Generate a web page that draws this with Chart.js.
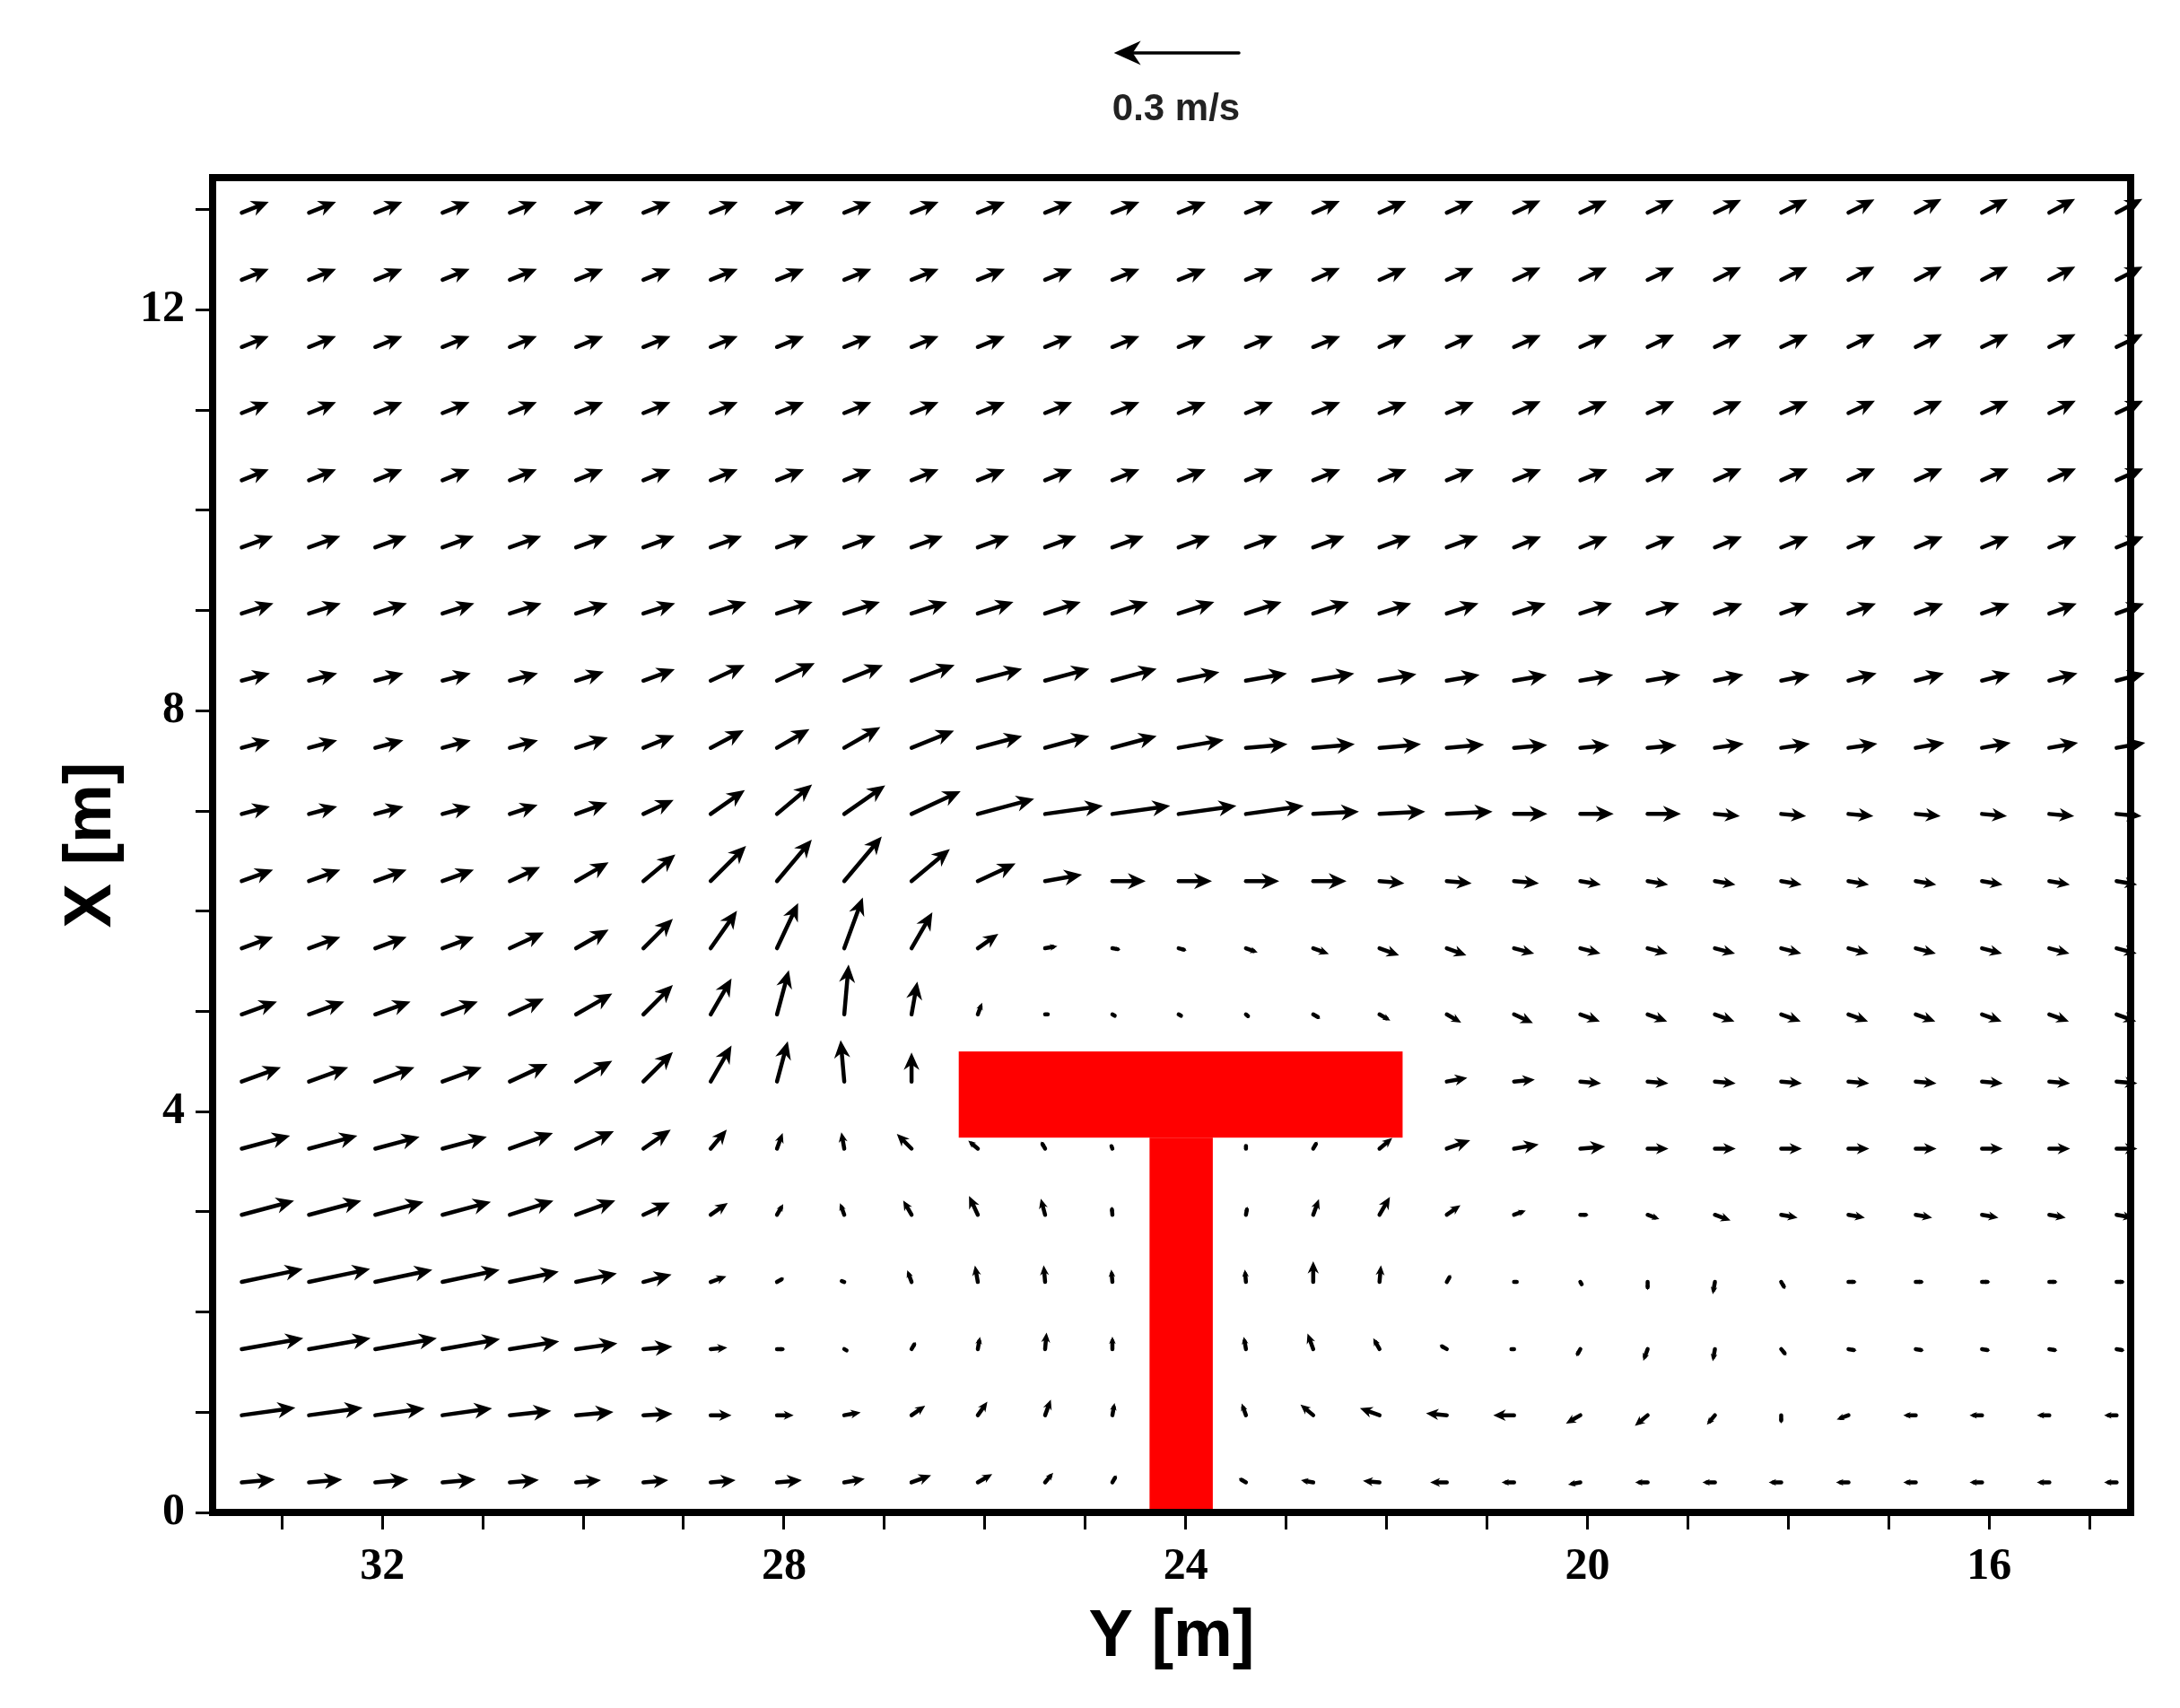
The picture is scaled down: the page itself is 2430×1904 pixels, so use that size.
<!DOCTYPE html>
<html>
<head>
<meta charset="utf-8">
<script src="https://cdn.jsdelivr.net/npm/chart.js@4/dist/chart.umd.min.js"></script>
<style>
  html, body { margin: 0; padding: 0; background: #fff; }
  #wrap { position: absolute; left: 0; top: 0; width: 2430px; height: 1904px; }
</style>
</head>
<body>
<div id="wrap"><canvas id="campo"></canvas></div>
<script>
// grid positions (m)
const colsY = [33.4, 32.73, 32.07, 31.4, 30.73, 30.07, 29.4, 28.73, 28.07, 27.4, 26.73, 26.07, 25.4, 24.73, 24.07,
  23.4, 22.73, 22.07, 21.4, 20.73, 20.07, 19.4, 18.73, 18.07, 17.4, 16.73, 16.07, 15.4, 14.73];
const rowsX = [0.3, 0.97, 1.63, 2.3, 2.97, 3.63, 4.3, 4.97, 5.63, 6.3, 6.97, 7.63, 8.3, 8.97, 9.63, 10.3, 10.97, 11.63, 12.3, 12.97];

// direction on the page (deg, 0 = right, 90 = up), one row per rowsX
const angulos = [
  [5,5,5,5,5,5,5,5,5,10,20,30,50,60,0,150,170,175,180,180,190,180,180,180,180,180,180,180,180],
  [8,8,8,8,6,5,3,0,0,10,35,55,70,80,0,110,140,160,175,180,210,220,230,270,200,180,180,180,180],
  [10,10,10,10,9,8,5,5,0,-30,60,80,85,90,0,100,110,120,150,180,240,250,260,-50,-10,-10,-10,-10,-10],
  [12,12,12,12,12,12,15,20,30,160,110,100,95,95,0,95,90,85,60,0,-60,-90,-100,-60,0,0,0,0,0],
  [15,15,15,15,18,20,25,35,60,110,120,115,105,95,0,80,70,60,35,20,0,-20,-20,-10,-10,-10,-10,-10,-10],
  [15,15,15,15,20,25,35,50,70,100,135,140,120,110,0,90,60,40,20,10,5,0,0,0,0,0,0,0,0],
  [20,20,20,20,25,30,45,60,75,95,90,0,0,0,0,0,0,0,10,5,-5,-5,-5,-5,-5,-5,-5,-5,-5],
  [20,20,20,20,25,30,45,60,75,85,80,70,0,-30,-30,-40,-30,-30,-30,-25,-20,-20,-20,-20,-20,-20,-20,-20,-20],
  [20,20,20,20,25,30,45,55,65,70,60,35,10,-10,-15,-20,-20,-20,-20,-15,-15,-15,-15,-15,-15,-15,-15,-15,-15],
  [20,20,20,20,25,30,40,45,50,50,40,25,10,0,0,0,0,-5,-5,-5,-10,-10,-10,-10,-10,-10,-10,-10,-10],
  [15,15,15,15,18,20,25,35,40,35,25,15,8,8,8,8,3,3,3,0,0,0,-5,-5,-5,-5,-5,-5,-5],
  [15,15,15,15,15,18,22,28,30,30,22,15,15,15,10,5,5,5,5,5,5,5,8,8,8,10,10,10,10],
  [15,15,15,15,15,18,20,25,25,22,20,15,15,15,12,10,10,10,10,10,10,10,12,12,15,15,15,15,15],
  [18,18,18,18,18,18,18,18,18,18,18,18,18,18,18,18,18,18,18,18,18,18,20,20,20,20,20,20,20],
  [20,20,20,20,20,20,20,20,20,20,20,20,20,20,20,20,20,20,20,22,22,22,22,22,22,22,22,22,22],
  [22,22,22,22,22,22,22,22,22,22,22,22,22,22,22,22,22,22,22,22,22,24,24,24,24,24,24,24,24],
  [22,22,22,22,22,22,22,22,22,22,22,22,22,22,22,22,22,22,22,24,24,24,24,24,25,25,25,25,25],
  [22,22,22,22,22,22,22,22,22,22,22,22,22,22,22,22,22,24,24,24,24,25,25,25,26,26,26,26,26],
  [22,22,22,22,22,22,22,22,22,22,22,22,22,22,22,22,24,24,24,25,25,25,26,26,27,27,27,27,27],
  [22,22,22,22,22,22,22,22,22,22,22,22,22,22,22,22,24,24,24,25,25,26,26,27,27,28,28,28,28]
];

// speed (cm/s), same layout
const velocidades = [
  [8,8,8,8,7,6,6,6,6,5,5,4,3,2,0,2,3,4,4,3,3,3,3,3,3,3,3,3,3],
  [13,13,12,12,10,9,7,5,4,4,4,4,4,3,0,3,4,5,5,5,4,4,3,2,3,3,3,3,3],
  [15,15,15,14,12,10,7,4,2,1,2,3,4,3,0,3,4,3,2,1,2,3,3,2,2,2,2,2,2],
  [15,15,14,14,12,10,7,4,2,1,3,4,4,3,0,3,5,4,2,1,1,2,3,2,2,2,2,2,2],
  [13,13,12,12,11,10,7,5,3,3,4,5,4,2,0,2,4,5,4,3,2,3,4,4,4,4,4,4,4],
  [12,12,11,11,11,10,8,6,4,4,5,3,2,1,0,1,2,4,6,6,6,5,5,5,5,5,5,5,5],
  [10,10,10,10,10,10,10,10,10,10,7,0,0,0,0,0,0,0,5,5,5,5,5,5,5,5,5,5,5],
  [9,9,9,9,9,10,10,10,11,12,8,3,1,1,1,1,2,3,4,5,5,5,5,5,5,5,5,5,5],
  [8,8,8,8,9,9,10,11,12,13,10,6,3,2,2,3,4,5,5,5,5,5,5,5,5,5,5,5,5],
  [8,8,8,8,8,9,10,12,13,14,12,10,9,8,8,8,8,6,6,6,5,5,5,5,5,5,5,5,5],
  [7,7,7,7,7,8,8,10,11,12,13,14,14,14,14,14,11,11,11,8,8,8,6,6,6,6,6,6,6],
  [7,7,7,7,7,8,8,9,9,10,11,11,11,11,11,10,10,10,9,8,7,7,7,7,7,7,7,7,7],
  [7,7,7,7,7,7,8,9,10,10,11,11,11,11,10,10,10,9,8,8,8,8,7,7,7,7,7,7,7],
  [8,8,8,8,8,8,8,9,9,9,9,9,9,9,9,9,9,8,8,8,8,8,7,7,7,7,7,7,7],
  [8,8,8,8,8,8,8,8,8,8,8,8,8,8,8,8,8,8,8,7,7,7,7,7,7,7,7,7,7],
  [7,7,7,7,7,7,7,7,7,7,7,7,7,7,7,7,7,7,7,7,7,7,7,7,7,7,7,7,7],
  [7,7,7,7,7,7,7,7,7,7,7,7,7,7,7,7,7,7,7,7,7,7,7,7,7,7,7,7,7],
  [7,7,7,7,7,7,7,7,7,7,7,7,7,7,7,7,7,7,7,7,7,7,7,7,7,7,7,7,7],
  [7,7,7,7,7,7,7,7,7,7,7,7,7,7,7,7,7,7,7,7,7,7,7,7,7,7,7,7,7],
  [7,7,7,7,7,7,7,7,7,7,7,7,7,7,7,7,7,7,7,7,7,7,7,7,7,7,7,7,7]
];

// T-shaped structure (m)
const barraY = [26.26, 21.84];
const barraX = [3.74, 4.6];
const troncoY = [24.36, 23.73];
const troncoX = [0, 3.74];

const ticksY = [32, 28, 24, 20, 16];
const ticksX = [0, 4, 8, 12];
const velRef = 0.3;        // m/s, reference arrow
const escala = 4.15;       // metres of plot per m/s

const puntos = [];
rowsX.forEach((x, i) => {
  colsY.forEach((y, j) => {
    puntos.push({ x: y, y: x, a: angulos[i][j], v: velocidades[i][j] / 100 });
  });
});

function flecha(ctx, x0, y0, x1, y1, cabeza) {
  const dx = x1 - x0, dy = y1 - y0;
  const len = Math.hypot(dx, dy);
  if (len < 1) return;
  const ux = dx / len, uy = dy / len;
  const h = Math.min(cabeza, len * 0.6);
  const w = h * 0.45;
  ctx.beginPath();
  ctx.moveTo(x0, y0);
  ctx.lineTo(x1 - ux * h * 0.6, y1 - uy * h * 0.6);
  ctx.stroke();
  ctx.beginPath();
  ctx.moveTo(x1, y1);
  ctx.lineTo(x1 - ux * h - uy * w, y1 - uy * h + ux * w);
  ctx.lineTo(x1 - ux * h * 0.7, y1 - uy * h * 0.7);
  ctx.lineTo(x1 - ux * h + uy * w, y1 - uy * h - ux * w);
  ctx.closePath();
  ctx.fill();
}

const dibujoCampo = {
  id: 'dibujoCampo',
  afterDatasetsDraw(chart) {
    const ctx = chart.ctx;
    const sx = chart.scales.x, sy = chart.scales.y;
    const area = chart.chartArea;
    const pxPorM = Math.abs(sx.getPixelForValue(0) - sx.getPixelForValue(1));
    const pyPorM = Math.abs(sy.getPixelForValue(0) - sy.getPixelForValue(1));
    ctx.save();
    ctx.strokeStyle = '#000';
    ctx.fillStyle = '#000';
    ctx.lineWidth = 4.5;
    ctx.lineCap = 'round';
    const meta = chart.getDatasetMeta(0);
    meta.data.forEach((el, k) => {
      const p = puntos[k];
      if (p.v <= 0) return;
      const r = p.a * Math.PI / 180;
      const L = p.v * escala;
      const x1 = el.x + Math.cos(r) * L * pxPorM;
      const y1 = el.y - Math.sin(r) * L * pyPorM;
      flecha(ctx, el.x, el.y, x1, y1, 20);
    });

    // structure
    ctx.fillStyle = '#ff0000';
    const rect = (ys, xs) => {
      const l = sx.getPixelForValue(ys[0]), r = sx.getPixelForValue(ys[1]);
      const t = sy.getPixelForValue(xs[1]), b = sy.getPixelForValue(xs[0]);
      ctx.fillRect(l, t, r - l, b - t);
    };
    rect(barraY, barraX);
    rect(troncoY, troncoX);

    // frame
    ctx.strokeStyle = '#000';
    ctx.lineWidth = 8;
    ctx.strokeRect(area.left, area.top, area.right - area.left, area.bottom - area.top);

    // reference arrow
    const Lref = velRef * escala * pxPorM;
    ctx.lineWidth = 3.5;
    ctx.fillStyle = '#000';
    const xr = 1381, yr = 59;
    flecha(ctx, xr, yr, xr - Lref, yr, 30);
    ctx.font = 'bold 42px "Liberation Sans", Arial, sans-serif';
    ctx.fillStyle = '#222';
    ctx.textAlign = 'center';
    ctx.textBaseline = 'middle';
    ctx.fillText(velRef + ' m/s', 1311, 122);
    ctx.restore();
  }
};

const fuenteTicks = { family: '"Liberation Serif", "Times New Roman", serif', size: 50, weight: 'bold' };
const fuenteTitulo = { family: '"Liberation Sans", Arial, sans-serif', size: 74, weight: 'bold' };

new Chart(document.getElementById('campo'), {
  type: 'scatter',
  data: {
    datasets: [{
      data: puntos.map(p => ({ x: p.x, y: p.y })),
      pointRadius: 0,
      pointHoverRadius: 0
    }]
  },
  options: {
    responsive: true,
    maintainAspectRatio: false,
    animation: false,
    events: [],
    layout: { padding: { left: 0, right: 55, top: 198, bottom: 0 } },
    plugins: { legend: { display: false }, tooltip: { enabled: false } },
    scales: {
      x: {
        type: 'linear',
        reverse: true,
        min: 14.59,
        max: 33.69,
        afterBuildTicks: s => {
          const t = [];
          for (let v = 33; v >= 15; v--) t.push({ value: v });
          s.ticks = t;
        },
        afterFit: s => { s.height = 218; },
        grid: { drawOnChartArea: false, color: '#000', tickLength: 19, tickWidth: 3, lineWidth: 3 },
        border: { display: false },
        ticks: {
          color: '#000',
          font: fuenteTicks,
          padding: 12,
          autoSkip: false,
          maxRotation: 0,
          callback: v => ticksY.includes(v) ? String(v) : ''
        },
        title: { display: true, text: 'Y [m]', color: '#000', font: fuenteTitulo, padding: { top: 34, bottom: 34 } }
      },
      y: {
        type: 'linear',
        min: 0,
        max: 13.32,
        afterBuildTicks: s => {
          const t = [];
          for (let v = 0; v <= 13; v++) t.push({ value: v });
          s.ticks = t;
        },
        afterFit: s => { s.width = 237; },
        grid: { drawOnChartArea: false, color: '#000', tickLength: 19, tickWidth: 3, lineWidth: 3 },
        border: { display: false },
        ticks: {
          color: '#000',
          font: fuenteTicks,
          padding: 12,
          autoSkip: false,
          callback: v => ticksX.includes(v) ? String(v) : ''
        },
        title: { display: true, text: 'X [m]', color: '#000', font: fuenteTitulo, padding: { top: 58, bottom: 58 } }
      }
    }
  },
  plugins: [dibujoCampo]
});
</script>
</body>
</html>
